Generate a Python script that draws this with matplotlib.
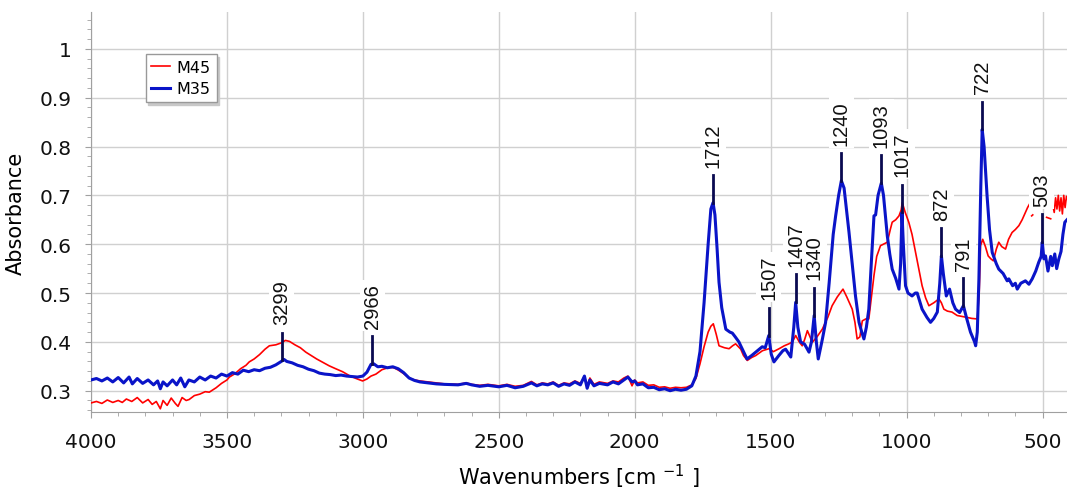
import numpy as np
import matplotlib
matplotlib.use('Agg')
import matplotlib.pyplot as plt
from matplotlib.ticker import MultipleLocator, FuncFormatter

# M35 (blue) spectrum: wavenumber [cm-1], absorbance
m35_wn = [4000, 3980, 3960, 3940, 3920, 3900, 3880, 3860, 3848, 3830, 3810, 3790, 3770, 3755, 3745,
          3735, 3720, 3700, 3685, 3670, 3655, 3640, 3620, 3600, 3580, 3560, 3540, 3520, 3500, 3480,
          3460, 3440, 3420, 3400, 3380, 3360, 3340, 3320, 3300, 3290, 3280, 3260, 3240, 3220, 3200,
          3180, 3160, 3140, 3120, 3100, 3080, 3060, 3040, 3020, 3000, 2985, 2970, 2960, 2945, 2930,
          2910, 2890, 2870, 2850, 2830, 2810, 2790, 2760, 2730, 2700, 2650, 2620, 2600, 2570, 2540,
          2500, 2470, 2440, 2410, 2380, 2360, 2340, 2320, 2300, 2280, 2260, 2240, 2220, 2200, 2185,
          2175, 2165, 2150, 2130, 2100, 2080, 2060, 2040, 2025, 2010, 2000, 1990, 1970, 1950, 1930,
          1910, 1890, 1870, 1850, 1830, 1810, 1790, 1775, 1760, 1745, 1730, 1720, 1712, 1705, 1697,
          1690, 1680, 1665, 1650, 1641, 1630, 1617, 1600, 1587, 1570, 1555, 1540, 1531, 1520, 1507,
          1498, 1488, 1470, 1455, 1445, 1426, 1415, 1408, 1400, 1390, 1375, 1359, 1350, 1340, 1332,
          1325, 1310, 1298, 1285, 1270, 1261, 1250, 1240, 1230, 1220, 1212, 1200, 1188, 1175, 1165,
          1157, 1148, 1139, 1130, 1120, 1114, 1105, 1093, 1085, 1071, 1062, 1053, 1040, 1028, 1022,
          1017, 1012, 1004, 995, 980, 968, 961, 950, 943, 925, 912, 900, 887, 878, 872,
          865, 854, 842, 830, 820, 805, 791, 780, 765, 750, 746, 740, 734, 727, 722,
          715, 704, 695, 685, 670, 661, 645, 630, 624, 610, 600, 593, 580, 563, 550,
          538, 525, 514, 505, 501, 495, 489, 480, 470, 464, 455, 448, 440, 432, 425,
          418, 410]
m35_abs = [0.322, 0.325, 0.320, 0.326, 0.318, 0.327, 0.316, 0.328, 0.314, 0.325, 0.315, 0.322, 0.312, 0.320, 0.304,
           0.318, 0.310, 0.322, 0.312, 0.326, 0.308, 0.322, 0.318, 0.328, 0.322, 0.330, 0.326, 0.334, 0.330, 0.337,
           0.334, 0.342, 0.339, 0.343, 0.341, 0.346, 0.348, 0.353, 0.360, 0.364, 0.360, 0.357, 0.352, 0.349, 0.344,
           0.341, 0.336, 0.334, 0.333, 0.331, 0.332, 0.330, 0.329, 0.328, 0.330, 0.338, 0.354, 0.355, 0.349, 0.350,
           0.347, 0.349, 0.345, 0.337, 0.326, 0.321, 0.318, 0.316, 0.314, 0.313, 0.312, 0.315, 0.312, 0.309, 0.311,
           0.308, 0.311, 0.306, 0.309, 0.316, 0.310, 0.314, 0.312, 0.316, 0.309, 0.314, 0.311, 0.318, 0.312, 0.330,
           0.305, 0.322, 0.310, 0.315, 0.312, 0.318, 0.314, 0.322, 0.328, 0.318, 0.320, 0.312, 0.314, 0.306, 0.307,
           0.302, 0.304, 0.300, 0.303, 0.301, 0.303, 0.310, 0.330, 0.380, 0.480, 0.600, 0.672, 0.685, 0.660, 0.590,
           0.522, 0.470, 0.426, 0.420, 0.418, 0.410, 0.400, 0.380, 0.365, 0.372, 0.379, 0.386, 0.390, 0.388, 0.413,
           0.375, 0.359, 0.372, 0.382, 0.385, 0.369, 0.430, 0.481, 0.430, 0.400, 0.395, 0.379, 0.400, 0.454, 0.400,
           0.365, 0.405, 0.440, 0.520, 0.620, 0.658, 0.700, 0.730, 0.715, 0.665, 0.625, 0.560, 0.494, 0.440, 0.420,
           0.406, 0.430, 0.467, 0.560, 0.658, 0.660, 0.700, 0.725, 0.700, 0.617, 0.580, 0.549, 0.530, 0.508, 0.560,
           0.665, 0.600, 0.515, 0.500, 0.494, 0.500, 0.500, 0.480, 0.467, 0.450, 0.440, 0.448, 0.461, 0.520, 0.576,
           0.540, 0.494, 0.508, 0.480, 0.467, 0.460, 0.474, 0.450, 0.420, 0.400, 0.392, 0.420, 0.529, 0.720, 0.835,
           0.800, 0.699, 0.630, 0.583, 0.560, 0.549, 0.540, 0.525, 0.529, 0.515, 0.520, 0.508, 0.520, 0.525, 0.518,
           0.529, 0.545, 0.563, 0.575, 0.604, 0.570, 0.576, 0.545, 0.575, 0.556, 0.580, 0.550, 0.570, 0.585, 0.620,
           0.645, 0.650]

# M45 (red) spectrum, nan = gap in the trace
m45_wn = [4000, 3980, 3960, 3940, 3920, 3900, 3885, 3870, 3850, 3830, 3810, 3790, 3775, 3760, 3745,
          3735, 3720, 3705, 3690, 3680, 3665, 3650, 3639, 3620, 3600, 3580, 3565, 3540, 3520, 3500,
          3491, 3470, 3450, 3430, 3418, 3400, 3380, 3360, 3344, 3320, 3300, 3285, 3270, 3250, 3230,
          3210, 3190, 3170, 3150, 3124, 3100, 3075, 3050, 3025, 3001, 2985, 2970, 2952, 2930, 2903,
          2885, 2866, 2850, 2830, 2810, 2790, 2760, 2730, 2700, 2650, 2620, 2600, 2570, 2540, 2500,
          2470, 2440, 2410, 2380, 2360, 2340, 2320, 2300, 2280, 2260, 2240, 2220, 2200, 2185, 2175,
          2165, 2150, 2130, 2100, 2080, 2060, 2040, 2025, 2010, 2000, 1990, 1970, 1950, 1930, 1910,
          1890, 1870, 1850, 1830, 1810, 1790, 1775, 1760, 1745, 1730, 1720, 1711, 1700, 1690, 1670,
          1653, 1640, 1629, 1610, 1600, 1586, 1570, 1555, 1530, 1506, 1490, 1469, 1450, 1433, 1420,
          1408, 1395, 1384, 1375, 1365, 1355, 1347, 1330, 1310, 1290, 1274, 1255, 1234, 1220, 1200,
          1190, 1182, 1172, 1163, 1150, 1139, 1130, 1120, 1110, 1096, 1085, 1071, 1060, 1053, 1040,
          1028, 1020, 1016, 1005, 992, 980, 967, 955, 943, 930, 918, 900, 881, 872, 863,
          850, 833, 814, 795, 777, 760, 740, 733, 728, 720, 710, 700, 690, 681, 670,
          661, 650, 636, 625, 612, 600, 587, 575, 563, 555, 548, 545, 540, 536, 533,
          485, 470, 467, 462, 457, 452, 447, 442, 437, 432, 427, 422, 417, 412, 407]
m45_abs = [0.275, 0.278, 0.274, 0.281, 0.276, 0.280, 0.276, 0.283, 0.278, 0.286, 0.275, 0.282, 0.272, 0.278, 0.263,
           0.280, 0.270, 0.285, 0.274, 0.268, 0.286, 0.280, 0.282, 0.290, 0.293, 0.298, 0.297, 0.306, 0.315, 0.322,
           0.328, 0.335, 0.345, 0.352, 0.359, 0.365, 0.374, 0.385, 0.392, 0.394, 0.398, 0.403, 0.401, 0.394, 0.388,
           0.379, 0.372, 0.365, 0.359, 0.351, 0.345, 0.339, 0.331, 0.325, 0.320, 0.324, 0.330, 0.334, 0.343, 0.348,
           0.347, 0.341, 0.335, 0.326, 0.322, 0.320, 0.318, 0.316, 0.314, 0.313, 0.316, 0.313, 0.311, 0.313, 0.310,
           0.313, 0.309, 0.311, 0.319, 0.312, 0.316, 0.314, 0.318, 0.311, 0.316, 0.314, 0.320, 0.315, 0.328, 0.310,
           0.326, 0.313, 0.318, 0.315, 0.320, 0.318, 0.326, 0.330, 0.310, 0.322, 0.316, 0.318, 0.311, 0.312, 0.307,
           0.308, 0.305, 0.307, 0.306, 0.307, 0.312, 0.325, 0.355, 0.390, 0.420, 0.432, 0.437, 0.415, 0.392, 0.388,
           0.386, 0.392, 0.396, 0.385, 0.372, 0.362, 0.368, 0.372, 0.382, 0.386, 0.380, 0.386, 0.392, 0.396, 0.400,
           0.413, 0.400, 0.392, 0.405, 0.423, 0.410, 0.399, 0.410, 0.426, 0.450, 0.474, 0.492, 0.508, 0.492, 0.467,
           0.440, 0.406, 0.410, 0.443, 0.447, 0.447, 0.490, 0.536, 0.575, 0.597, 0.600, 0.604, 0.630, 0.645, 0.650,
           0.658, 0.670, 0.685, 0.665, 0.645, 0.620, 0.583, 0.550, 0.515, 0.490, 0.474, 0.480, 0.488, 0.480, 0.467,
           0.463, 0.461, 0.454, 0.452, 0.450, 0.448, 0.447, 0.500, 0.597, 0.610, 0.595, 0.576, 0.570, 0.566, 0.590,
           0.604, 0.595, 0.590, 0.610, 0.624, 0.630, 0.638, 0.650, 0.665, 0.675, 0.682, np.nan, 0.658, 0.660, np.nan,
           0.655, 0.652, np.nan, 0.680, 0.665, 0.695, 0.672, 0.700, 0.668, 0.695, 0.662, 0.700, 0.675, 0.698, 0.690]

# marked peaks (on M35)
peak_wn = [3299, 2966, 1712, 1507, 1407, 1340, 1240, 1093, 1017, 872, 791, 722, 503]
peak_abs = [0.362, 0.355, 0.685, 0.413, 0.481, 0.454, 0.730, 0.725, 0.665, 0.576, 0.474, 0.835, 0.604]

fig = plt.figure(figsize=(10.67, 4.89), dpi=100)
ax = fig.add_axes([0.0853, 0.155, 0.9147, 0.818])

ax.plot(m45_wn, m45_abs, color='#ff0000', lw=1.2, label='M45', zorder=3)
ax.plot(m35_wn, m35_abs, color='#0a14c8', lw=2.2, label='M35', zorder=4)

for wn, a in zip(peak_wn, peak_abs):
    top = a + 0.057
    ax.plot([wn, wn], [a, top], color='#0a0a50', lw=2.0, zorder=5)
    ax.annotate(str(wn), (wn, top), xytext=(0, 6), textcoords='offset points',
                rotation=90, ha='center', va='bottom', fontsize=14.5,
                family='Liberation Sans', color='#111111', zorder=6,
                bbox=dict(boxstyle='square,pad=0.15', fc='white', ec='none'))

ax.set_xlim(4000, 410)
ax.set_ylim(0.256, 1.075)
ax.xaxis.set_major_locator(MultipleLocator(500))
ax.xaxis.set_minor_locator(MultipleLocator(100))
ax.yaxis.set_major_locator(MultipleLocator(0.1))
ax.yaxis.set_minor_locator(MultipleLocator(0.02))
ax.yaxis.set_major_formatter(FuncFormatter(lambda v, p: '%g' % round(v, 2)))

ax.grid(True, which='major', color='#d0d0d0', lw=1.0)
ax.set_axisbelow(True)
for s in ['top', 'right']:
    ax.spines[s].set_visible(False)
for s in ['left', 'bottom']:
    ax.spines[s].set_color('#a0a0a0')
ax.tick_params(which='both', direction='out', colors='#a0a0a0', labelcolor='#111111')
ax.tick_params(which='major', length=4, labelsize=14.5, pad=10)
ax.tick_params(which='minor', length=3)

ax.set_ylabel('Absorbance', fontsize=15, labelpad=10)
ax.set_xlabel(r'Wavenumbers [cm $^{\mathregular{-1}}$ ]', fontsize=15, labelpad=8)

leg = ax.legend(loc='upper left', bbox_to_anchor=(0.056, 0.895), borderaxespad=0,
                fancybox=False, shadow={'color': '#c8c8c8', 'alpha': 1},
                edgecolor='#999999', fontsize=11.5,
                handlelength=1.2, handletextpad=0.4, borderpad=0.35,
                labelspacing=0.4, framealpha=1)

fig.savefig('out.png', dpi=100)
